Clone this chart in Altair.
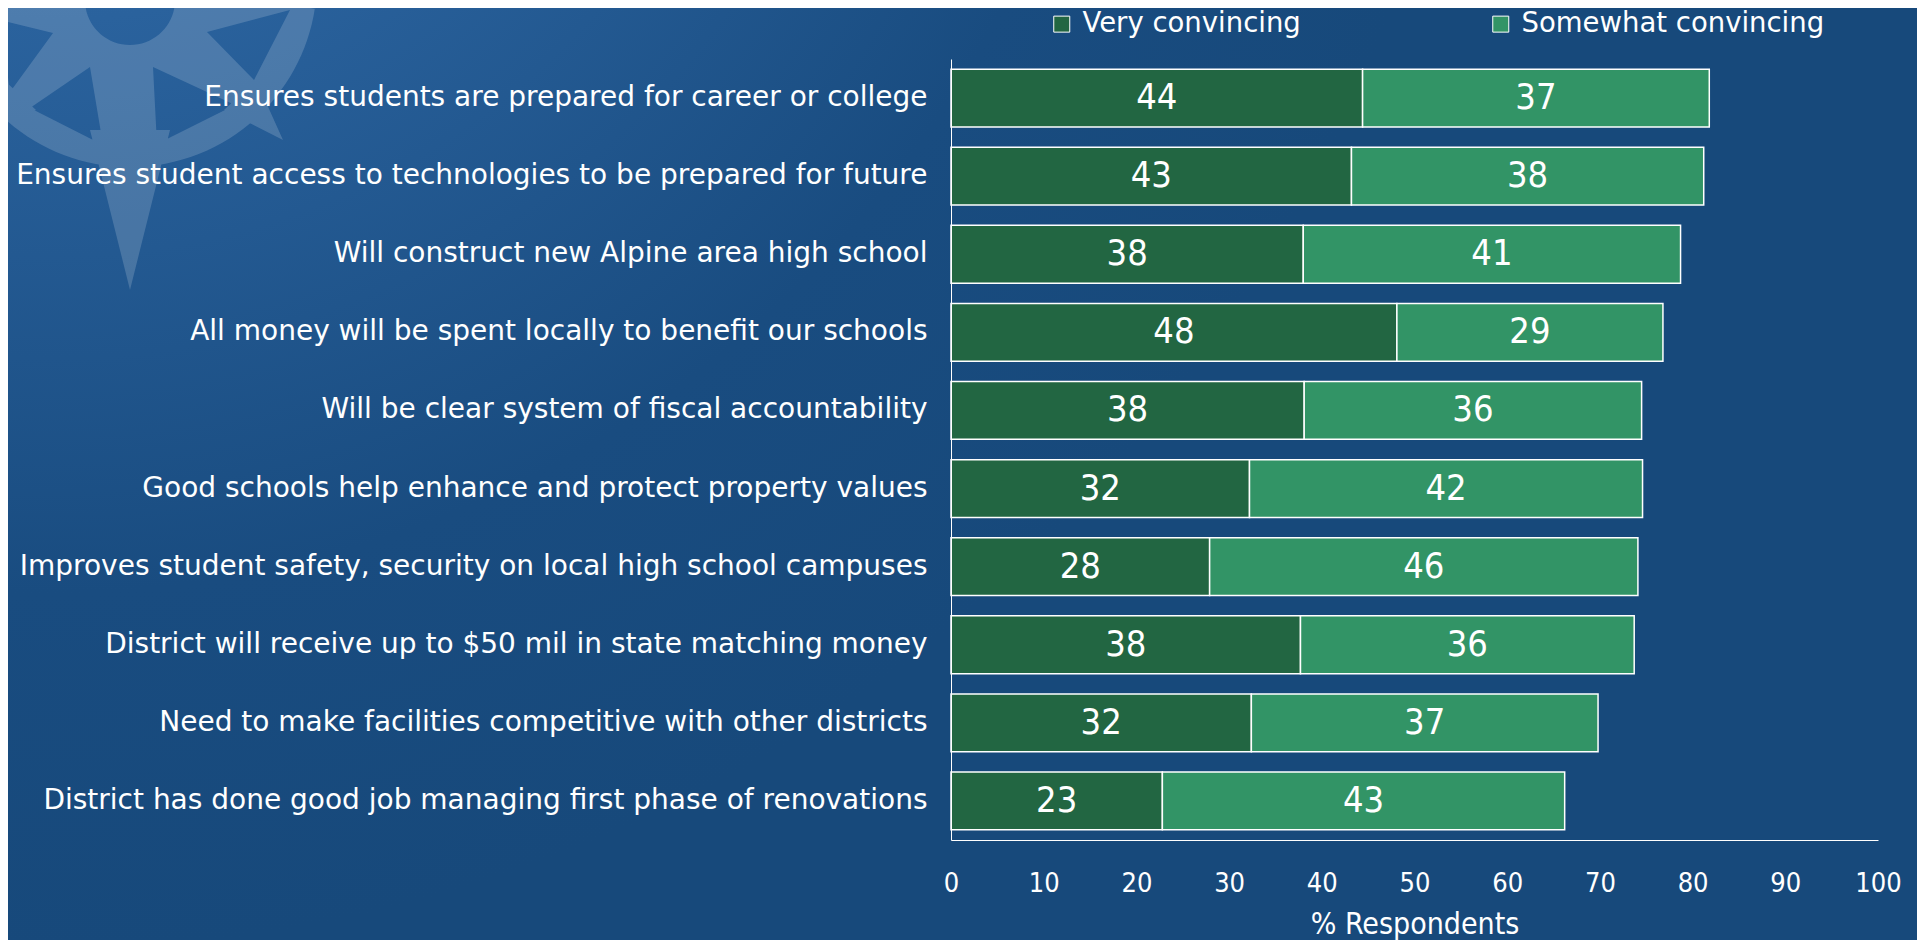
import altair as alt
import pandas as pd

items = [
    "Ensures students are prepared for career or college",
    "Ensures student access to technologies to be prepared for future",
    "Will construct new Alpine area high school",
    "All money will be spent locally to benefit our schools",
    "Will be clear system of fiscal accountability",
    "Good schools help enhance and protect property values",
    "Improves student safety, security on local high school campuses",
    "District will receive up to $50 mil in state matching money",
    "Need to make facilities competitive with other districts",
    "District has done good job managing first phase of renovations",
]
very = [44.4, 43.2, 38.0, 48.1, 38.1, 32.2, 27.9, 37.7, 32.4, 22.8]
somewhat = [37.4, 38.0, 40.7, 28.7, 36.4, 42.4, 46.2, 36.0, 37.4, 43.4]
series = ["Very convincing", "Somewhat convincing"]
colors = ["#226642", "#329466"]
ticks = [0, 10, 20, 30, 40, 50, 60, 70, 80, 90, 100]

rows = []
for i, it in enumerate(items):
    rows.append({"item": it, "series": series[0], "order": 0, "value": very[i]})
    rows.append({"item": it, "series": series[1], "order": 1, "value": somewhat[i]})
df = pd.DataFrame(rows)

W, H = 927, 781
PL, PT, PR, PB = 943, 51, 39, 100

# ---- decorative background (gradient + watermark logo) ----
bg = alt.Chart(alt.Data(values=[{"a": 1}])).mark_rect(
    color={
        "gradient": "radial",
        "x1": 0.02, "y1": 0.0, "r1": 0,
        "x2": 0.02, "y2": 0.0, "r2": 0.75,
        "stops": [
            {"offset": 0, "color": "#3f79b4"},
            {"offset": 0.35, "color": "#2a629d"},
            {"offset": 0.75, "color": "#194c80"},
            {"offset": 1, "color": "#17497b"},
        ],
    }
).encode(
    x=alt.value(-PL), x2=alt.value(W + PR), y=alt.value(-PT), y2=alt.value(H + PB)
)

S = 330.0  # px per path unit


def tri(pts, positive):
    (x1, y1), (x2, y2), (x3, y3) = pts
    cr = (x2 - x1) * (y3 - y1) - (y2 - y1) * (x3 - x1)
    if (cr > 0) != positive:
        pts = [pts[0], pts[2], pts[1]]
    s = "M" + " L".join(f"{x / S:.4f},{y / S:.4f}" for x, y in pts) + " Z"
    return s


def circ(cx, cy, r, positive):
    sw = 1 if positive else 0
    a, b, rr = (cx + r) / S, cy / S, r / S
    c = (cx - r) / S
    return (f"M{a:.4f},{b:.4f} A{rr:.4f},{rr:.4f} 0 1 {sw} {c:.4f},{b:.4f} "
            f"A{rr:.4f},{rr:.4f} 0 1 {sw} {a:.4f},{b:.4f} Z")


logo_path = " ".join([
    circ(0, 0, 187, True),
    circ(0, 20, 45, False),
    tri([(-100, 128), (-40, 87), (-27, 165)], False),
    tri([(23, 87), (105, 125), (27, 164)], False),
    tri([(77, 52), (160, 30), (124, 100)], False),
    tri([(-130, 40), (-77, 53), (-120, 112)], False),
    tri([(-40, 150), (40, 150), (0, 310)], True),
    tri([(94, 130), (126, 100), (153, 160)], True),
    tri([(-94, 130), (-126, 100), (-165, 150)], True),
    tri([(175, -15), (175, 30), (260, 15)], True),
])

logo = alt.Chart(alt.Data(values=[{"a": 1}])).mark_point(
    shape=logo_path, filled=True, color="white", opacity=0.17,
    size=(2 * S) ** 2, strokeWidth=0,
).encode(x=alt.value(130 - 8 - PL), y=alt.value(-20 - 8 - PT))

# ---- data layers ----
base = alt.Chart(df).transform_stack(
    stack="value", groupby=["item"], as_=["x0", "x1"],
    sort=[alt.SortField("order", order="ascending")],
).transform_calculate(mid="(datum.x0 + datum.x1) / 2")

yenc = alt.Y(
    "item:N", sort=items, title=None,
    scale=alt.Scale(paddingInner=0.26, paddingOuter=0.13),
    axis=alt.Axis(
        ticks=False, domainColor="white", domainWidth=1, labelColor="white",
        labelFont="DejaVu Sans", labelFontSize=28, labelPadding=24, labelLimit=2000,
        zindex=1,
    ),
)

bars = base.mark_bar(stroke="white", strokeWidth=1.5).encode(
    y=yenc,
    x=alt.X(
        "x0:Q", scale=alt.Scale(domain=[0, 100]), title="% Respondents",
        axis=alt.Axis(
            values=ticks, ticks=False, grid=False, domainColor="white", domainWidth=1,
            labelColor="white", labelFont="DejaVu Sans Condensed", labelFontSize=27,
            labelPadding=30, labelFlush=False, labelOverlap=False,
            titleColor="white", titleFont="DejaVu Sans Condensed",
            titleFontSize=30, titleFontWeight="normal", titlePadding=13, zindex=1,
        ),
    ),
    x2="x1:Q",
    color=alt.Color(
        "series:N", scale=alt.Scale(domain=series, range=colors), title=None,
        legend=alt.Legend(
            orient="none", legendX=97, legendY=-49, direction="horizontal",
            symbolType="square", symbolSize=256, symbolStrokeColor="white",
            symbolStrokeWidth=1, symbolOpacity=1, labelColor="white",
            labelFont="DejaVu Sans", labelFontSize=27.5, labelOffset=7,
            columnPadding=186, labelLimit=1000,
        ),
    ),
    order=alt.Order("order:Q"),
)

texts = base.mark_text(
    color="white", font="DejaVu Sans Condensed", fontSize=36, align="center", baseline="middle"
).encode(
    y=alt.Y("item:N", sort=items),
    x=alt.X("mid:Q"),
    text=alt.Text("value:Q", format=".0f"),
)

chart = alt.layer(bg, logo, bars, texts).properties(
    width=W, height=H,
    autosize=alt.AutoSizeParams(type="none"),
    padding={"left": PL, "top": PT, "right": PR, "bottom": PB},
    background="#17497b",
).configure_view(stroke=None)

chart.save("out.html", embed_options={"renderer": "svg", "actions": False})
